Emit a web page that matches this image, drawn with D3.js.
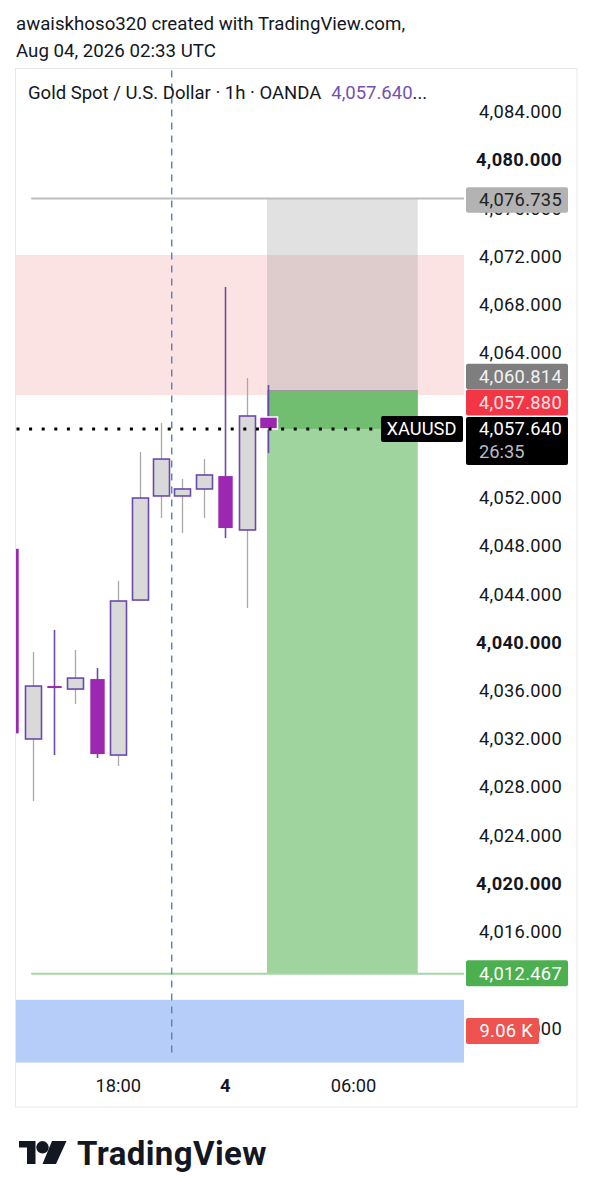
<!DOCTYPE html>
<html>
<head>
<meta charset="utf-8">
<script src="https://cdn.jsdelivr.net/npm/d3@7"></script>
<style>
  html, body { margin: 0; padding: 0; background: #ffffff; }
  svg { display: block; font-family: Roboto, "Noto Sans", sans-serif; }
</style>
</head>
<body>
<svg id="chart" width="592" height="1200"></svg>
<script>
// ---------------- DATA ----------------
const times   = ["13:00","14:00","15:00","16:00","17:00","18:00","19:00","20:00","22:00","23:00","00:00","01:00","02:00"];
const candleIdx = [-1, 0, 1, 2, 3, 4, 5, 6, 7, 8, 9, 10, 11];
const opens  = [4047.70, 4031.93, 4036.32, 4036.07, 4036.90, 4030.60, 4043.45, 4052.08, 4052.08, 4052.66, 4053.73, 4049.26, 4058.63];
const highs  = [4047.70, 4039.14, 4040.97, 4039.31, 4037.81, 4045.03, 4055.72, 4058.13, 4053.49, 4055.14, 4069.41, 4061.86, 4061.28];
const lows   = [4032.40, 4026.79, 4030.60, 4034.83, 4030.35, 4029.69, 4043.45, 4050.25, 4049.01, 4050.25, 4048.59, 4042.79, 4055.64];
const closes = [4032.40, 4036.32, 4036.16, 4036.98, 4030.68, 4043.37, 4051.91, 4055.14, 4052.66, 4053.82, 4049.42, 4058.71, 4057.64];

// visible price-scale ticks (4,060 / 4,056 / 4,012 are fully hidden under the price labels)
const priceTicks = [4084,4080,4076,4072,4068,4064,4052,4048,4044,4040,4036,4032,4028,4024,4020,4016,4008];
const timeTickIdx = [4, 9, 15];
const timeTickLabels = ["18:00", "4", "06:00"];

const lastPrice = 4057.640;
const countdown = "26:35";
const entryPrice = 4060.814;
const stopPrice = 4076.735;
const targetPrice = 4012.467;
const positionIdx = [11, 18];
const resistZone = [4060.45, 4072.06];
const supportZone = [4005.1, 4010.3];
const bidPrice = 4057.880;
const volumeLabel = "9.06 K";
const sessionBreakIdx = 6.5;

// ---------------- LAYOUT ----------------
const svg = d3.select("#chart");
const paneL = 15.5, paneR = 464, paneT = 68.5, paneB = 1072, frameB = 1107, frameR = 577;
const FS = 18.3;

const x = d3.scaleLinear().domain([0, 11]).range([32.7, 268]);
const y = d3.scaleLinear().domain([4008, 4084]).range([1027.6, 111]);
const bodyW = 16;

// Header text
svg.append("text").attr("x", 16).attr("y", 30).attr("font-size", 18.7).attr("fill", "#131722")
  .text("awaiskhoso320 created with TradingView.com,");
svg.append("text").attr("x", 16).attr("y", 57).attr("font-size", 18.7).attr("fill", "#131722")
  .text("Aug 04, 2026 02:33 UTC");

// frame
svg.append("rect").attr("x", paneL).attr("y", paneT).attr("width", frameR - paneL).attr("height", frameB - paneT)
  .attr("fill", "#fff").attr("stroke", "#e6e8ee").attr("stroke-width", 1);

svg.append("defs").append("clipPath").attr("id", "pane")
  .append("rect").attr("x", paneL + 0.5).attr("y", paneT + 0.5).attr("width", paneR - paneL - 0.5).attr("height", paneB - paneT);

const g = svg.append("g").attr("clip-path", "url(#pane)");

// zones
g.append("rect").attr("x", paneL).attr("width", paneR - paneL)
  .attr("y", y(resistZone[1])).attr("height", y(resistZone[0]) - y(resistZone[1]))
  .attr("fill", "rgba(239,83,80,0.16)");
g.append("rect").attr("x", paneL).attr("width", paneR - paneL)
  .attr("y", y(supportZone[1])).attr("height", y(supportZone[0]) - y(supportZone[1]))
  .attr("fill", "#b6cdfa");

// position tool
const px0 = x(positionIdx[0]) - 1, px1 = x(positionIdx[1]);
g.append("rect").attr("x", px0).attr("width", px1 - px0)
  .attr("y", y(stopPrice)).attr("height", y(entryPrice) - y(stopPrice))
  .attr("fill", "rgba(120,120,120,0.22)");
g.append("rect").attr("x", px0).attr("width", px1 - px0)
  .attr("y", y(entryPrice)).attr("height", y(targetPrice) - y(entryPrice))
  .attr("fill", "#9fd49e");
g.append("rect").attr("x", px0).attr("width", px1 - px0)
  .attr("y", y(entryPrice)).attr("height", y(lastPrice) - y(entryPrice))
  .attr("fill", "#72be70");
g.append("line").attr("x1", px0).attr("x2", px1).attr("y1", y(entryPrice)).attr("y2", y(entryPrice))
  .attr("stroke", "#9a9a9a").attr("stroke-width", 1.2);

// stop / target lines
g.append("line").attr("x1", x(0) - 1.5).attr("x2", paneR).attr("y1", y(stopPrice)).attr("y2", y(stopPrice))
  .attr("stroke", "#bdbdbd").attr("stroke-width", 2);
g.append("line").attr("x1", x(0) - 1.5).attr("x2", paneR).attr("y1", y(targetPrice)).attr("y2", y(targetPrice))
  .attr("stroke", "#a5d6a7").attr("stroke-width", 2);

// session break dashed line
svg.append("line").attr("x1", x(sessionBreakIdx)).attr("x2", x(sessionBreakIdx))
  .attr("y1", paneT + 2).attr("y2", 1056)
  .attr("stroke", "#5a7fb6").attr("stroke-width", 1.4).attr("stroke-dasharray", "7,6");

// candles
const candles = candleIdx.map((i, k) => ({ i, o: opens[k], h: highs[k], l: lows[k], c: closes[k], last: k === candleIdx.length - 1 }));
const cg = g.append("g");
candles.forEach(d => {
  const up = d.c >= d.o;
  const cx = Math.round(x(d.i)) + 0.5;
  cg.append("line").attr("x1", cx).attr("x2", cx).attr("y1", y(d.h)).attr("y2", y(d.l))
    .attr("stroke", up ? "#a9a9a9" : "#6b4aa8").attr("stroke-width", up ? 1.3 : 1.6);
  const top = y(Math.max(d.o, d.c)), bot = y(Math.min(d.o, d.c));
  const hgt = Math.max(bot - top, 2);
  if (up) {
    cg.append("rect").attr("x", cx - bodyW / 2).attr("y", top).attr("width", bodyW).attr("height", hgt)
      .attr("fill", "#d9d9d9").attr("stroke", "#6a4aab").attr("stroke-width", 1.6);
  } else {
    cg.append("rect").attr("x", cx - bodyW / 2 + (d.last ? -1 : 0.8)).attr("y", top)
      .attr("width", d.last ? bodyW + 2 : bodyW - 1.6).attr("height", hgt)
      .attr("fill", "#9c27b0").attr("stroke", d.last ? "#ffffff" : "none").attr("stroke-width", 1.5);
  }
});

// last price dotted line
svg.append("line").attr("x1", paneL + 1).attr("x2", 380).attr("y1", y(lastPrice)).attr("y2", y(lastPrice))
  .attr("stroke", "#000").attr("stroke-width", 3).attr("stroke-dasharray", "3,9.6");

// XAUUSD label
svg.append("rect").attr("x", 381).attr("y", y(lastPrice) - 13).attr("width", 82).attr("height", 26).attr("rx", 2)
  .attr("fill", "#000");
svg.append("text").attr("x", 421.5).attr("y", y(lastPrice) + 6.3).attr("text-anchor", "middle")
  .attr("font-size", FS).attr("fill", "#fff").text("XAUUSD");

// price axis
const fmt = d3.format(",.3f");
const axis = d3.axisRight(y).tickValues(priceTicks).tickFormat(fmt).tickSize(0).tickPadding(0);
const ag = svg.append("g").call(axis);
ag.select(".domain").remove();
ag.selectAll("text").attr("x", 562).attr("dy", "0.36em").attr("text-anchor", "end").attr("font-size", FS)
  .attr("font-family", "Roboto, sans-serif").attr("fill", "#131722").attr("letter-spacing", 0.3)
  .attr("font-weight", d => (d % 20 === 0 ? "bold" : "normal"));

// price label boxes
function priceBox(yc, h, fill, label, color, w) {
  const bw = w || 102;
  svg.append("rect").attr("x", 466).attr("y", yc - h / 2).attr("width", bw).attr("height", h).attr("rx", 2).attr("fill", fill);
  svg.append("text").attr("x", 466 + bw - 6).attr("y", yc + 6.3).attr("text-anchor", "end")
    .attr("font-size", FS).attr("letter-spacing", 0.3).attr("fill", color).text(label);
}
priceBox(y(stopPrice) + 1.5, 25.5, "#b3b3b3", fmt(stopPrice), "#222");
priceBox(376.5, 25.5, "#7e7e7e", fmt(entryPrice), "#f2f2f2");
priceBox(402.5, 26, "#f23645", fmt(bidPrice), "#ffe3e6");
svg.append("rect").attr("x", 466).attr("y", 417).attr("width", 102).attr("height", 48).attr("rx", 2).attr("fill", "#000");
svg.append("text").attr("x", 562).attr("y", 435).attr("text-anchor", "end").attr("font-size", FS).attr("letter-spacing", 0.3)
  .attr("fill", "#fff").text(fmt(lastPrice));
svg.append("text").attr("x", 479).attr("y", 458).attr("font-size", FS).attr("fill", "#b9bcc4").text(countdown);
priceBox(y(targetPrice) - 0.5, 26, "#4caf50", fmt(targetPrice), "#fff");
priceBox(1031, 26, "#ef5350", volumeLabel, "#fff", 73);

// time axis
const tg = svg.append("g");
timeTickIdx.forEach((t, k) => {
  tg.append("text").attr("x", x(t)).attr("y", 1092).attr("text-anchor", "middle")
    .attr("font-size", FS).attr("fill", "#131722")
    .attr("font-weight", timeTickLabels[k] === "4" ? "bold" : "normal")
    .text(timeTickLabels[k]);
});

// legend
const leg = svg.append("text").attr("x", 28).attr("y", 99).attr("font-size", 18.5).attr("fill", "#131722");
leg.append("tspan").text("Gold Spot / U.S. Dollar · 1h · OANDA");
leg.append("tspan").attr("dx", 10).attr("fill", "#7352b5").text(fmt(lastPrice));
leg.append("tspan").attr("fill", "#131722").text("...");

// TradingView logo
const lg = svg.append("g").attr("fill", "#131722");
lg.append("path").attr("d", "M19,1141 H35.5 V1164 H27 V1147.5 H19 Z");
lg.append("circle").attr("cx", 42.5).attr("cy", 1147.3).attr("r", 6.2);
lg.append("path").attr("d", "M52,1141 H66.5 L56,1164 H42.5 Z");
svg.append("text").attr("x", 77).attr("y", 1165).attr("font-size", 33).attr("font-weight", "bold")
  .attr("fill", "#131722").attr("letter-spacing", 0.4).text("TradingView");
</script>
</body>
</html>
